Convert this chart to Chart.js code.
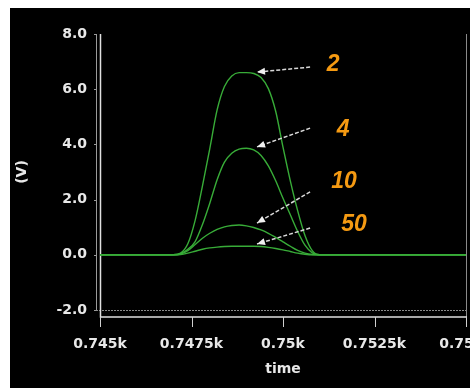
<!DOCTYPE html>
<html>
<head>
<meta charset="utf-8">
<script src="https://cdn.jsdelivr.net/npm/chart.js@4.4.1/dist/chart.umd.min.js"></script>
<style>
  html, body { margin: 0; padding: 0; background: #fff; }
  #wrap { position: absolute; left: 10px; top: 8px; width: 460px; height: 380px; background: #000; }
</style>
</head>
<body>
<div id="wrap"><canvas id="chart" width="460" height="380"></canvas></div>
<script>
// time axis samples (same grid for every curve)
const timeGrid = [745, 747.0, 747.2, 747.4, 747.6, 747.8, 748.0, 748.2, 748.4, 748.6, 748.8,
  749.0, 749.2, 749.4, 749.6, 749.8, 750.0, 750.2, 750.4, 750.6, 750.8, 751.0, 755];

// voltage for each case
const v2  = [0, 0, 0.06, 0.4, 1.25, 2.5, 3.85, 5.25, 6.1, 6.48, 6.6, 6.6, 6.57, 6.42, 6.02, 5.2, 3.9, 2.68, 1.6, 0.7, 0.15, 0, 0];
const v4  = [0, 0, 0.04, 0.2, 0.48, 1.1, 1.87, 2.72, 3.36, 3.68, 3.83, 3.86, 3.8, 3.6, 3.22, 2.68, 2.05, 1.45, 0.85, 0.35, 0.07, 0, 0];
const v10 = [0, 0, 0.03, 0.15, 0.37, 0.6, 0.78, 0.92, 1.01, 1.06, 1.08, 1.05, 0.99, 0.9, 0.78, 0.63, 0.47, 0.31, 0.16, 0.06, 0.01, 0, 0];
const v50 = [0, 0, 0.01, 0.06, 0.13, 0.2, 0.25, 0.28, 0.3, 0.31, 0.31, 0.31, 0.31, 0.3, 0.27, 0.23, 0.18, 0.12, 0.06, 0.02, 0, 0, 0];

// callouts
const noteLabels = ['2', '4', '10', '50'];
const noteTime   = [751.37, 751.64, 751.67, 751.94];
const noteValue  = [6.88, 4.52, 2.64, 1.08];
const tailTime   = [750.74, 750.74, 750.74, 750.74];
const tailValue  = [6.80, 4.59, 2.28, 0.97];
const tipTime    = [749.29, 749.29, 749.29, 749.29];
const tipValue   = [6.62, 3.91, 1.15, 0.39];

const yTicks = [-2, 0, 2, 4, 6, 8];
const xTicks = [745, 747.5, 750, 752.5, 755];

const lineColor = '#38ac38';
const toPoints = (vals) => timeGrid.map((t, i) => ({ x: t, y: vals[i] }));

// axis frame drawn by hand (offset x axis, double y line)
const framePlugin = {
  id: 'frame',
  beforeDatasetsDraw(chart) {
    const { ctx, chartArea: a, scales } = chart;
    const axisY = a.bottom + 7;
    ctx.save();
    ctx.lineWidth = 1;
    // dotted bottom edge
    ctx.strokeStyle = '#8a8a8a';
    ctx.setLineDash([2, 1]);
    ctx.beginPath(); ctx.moveTo(a.left - 4, a.bottom + 0.5); ctx.lineTo(a.right, a.bottom + 0.5); ctx.stroke();
    ctx.setLineDash([]);
    // gray inner y line
    ctx.strokeStyle = '#9a9a9a';
    ctx.beginPath(); ctx.moveTo(a.left - 3.5, a.top); ctx.lineTo(a.left - 3.5, a.bottom); ctx.stroke();
    // y tick marks
    yTicks.forEach(v => {
      const y = Math.round(scales.y.getPixelForValue(v)) + 0.5;
      ctx.beginPath(); ctx.moveTo(a.left - 6, y); ctx.lineTo(a.left - 3.5, y); ctx.stroke();
    });
    // right edge
    ctx.strokeStyle = '#8a8a8a';
    ctx.beginPath(); ctx.moveTo(a.right + 0.5, a.top); ctx.lineTo(a.right + 0.5, axisY); ctx.stroke();
    // white left line and x axis
    ctx.strokeStyle = '#e0e0e0';
    ctx.lineWidth = 1.5;
    ctx.beginPath(); ctx.moveTo(a.left + 0.5, a.top); ctx.lineTo(a.left + 0.5, axisY); ctx.lineTo(a.right + 1, axisY); ctx.stroke();
    ctx.lineWidth = 1;
    ctx.strokeStyle = '#d0d0d0';
    xTicks.forEach(v => {
      const x = Math.round(scales.x.getPixelForValue(v)) + 0.5;
      ctx.beginPath(); ctx.moveTo(x, axisY); ctx.lineTo(x, axisY + 10); ctx.stroke();
    });
    ctx.restore();
  }
};

// dashed arrows and orange case numbers
const notesPlugin = {
  id: 'notes',
  afterDatasetsDraw(chart) {
    const { ctx, scales } = chart;
    const sx = scales.x, sy = scales.y;
    ctx.save();
    noteLabels.forEach((lab, i) => {
      const x0 = sx.getPixelForValue(tailTime[i]), y0 = sy.getPixelForValue(tailValue[i]);
      const x1 = sx.getPixelForValue(tipTime[i]), y1 = sy.getPixelForValue(tipValue[i]);
      ctx.strokeStyle = '#d8d8d8';
      ctx.lineWidth = 1.5;
      ctx.setLineDash([4, 2]);
      ctx.beginPath(); ctx.moveTo(x0, y0); ctx.lineTo(x1, y1); ctx.stroke();
      ctx.setLineDash([]);
      const ang = Math.atan2(y1 - y0, x1 - x0);
      ctx.fillStyle = '#f0f0f0';
      ctx.beginPath();
      ctx.moveTo(x1, y1);
      ctx.lineTo(x1 - 8 * Math.cos(ang) + 3.5 * Math.sin(ang), y1 - 8 * Math.sin(ang) - 3.5 * Math.cos(ang));
      ctx.lineTo(x1 - 8 * Math.cos(ang) - 3.5 * Math.sin(ang), y1 - 8 * Math.sin(ang) + 3.5 * Math.cos(ang));
      ctx.closePath();
      ctx.fill();

      ctx.fillStyle = '#f59a12';
      ctx.font = 'italic bold 23px "Liberation Sans", Arial, sans-serif';
      ctx.textAlign = 'center';
      ctx.textBaseline = 'middle';
      ctx.fillText(lab, sx.getPixelForValue(noteTime[i]), sy.getPixelForValue(noteValue[i]));
    });
    ctx.restore();
  }
};

const tickFont = { family: '"DejaVu Sans", sans-serif', size: 14, weight: 'bold' };

new Chart(document.getElementById('chart'), {
  type: 'line',
  data: {
    datasets: [v2, v4, v10, v50].map((vals, i) => ({
      label: noteLabels[i],
      data: toPoints(vals),
      borderColor: lineColor,
      borderWidth: 1.4,
      pointRadius: 0,
      cubicInterpolationMode: 'monotone',
      fill: false
    }))
  },
  options: {
    responsive: false,
    animation: false,
    layout: { padding: { top: 26, right: 4, left: 0, bottom: 0 } },
    plugins: { legend: { display: false }, tooltip: { enabled: false } },
    scales: {
      x: {
        type: 'linear',
        min: 745,
        max: 755,
        grid: { display: false, drawTicks: false },
        border: { display: false },
        ticks: {
          stepSize: 2.5,
          padding: 26,
          color: '#e8e8e8',
          font: tickFont,
          maxRotation: 0,
          autoSkip: false,
          callback: (v) => parseFloat((v / 1000).toFixed(4)) + 'k'
        },
        title: { display: true, text: 'time', color: '#e8e8e8', font: tickFont, padding: { top: 0, bottom: 10 } },
        afterFit(scale) { scale.height = 78; scale.paddingLeft = 0; scale.paddingRight = 0; }
      },
      y: {
        min: -2,
        max: 8,
        grid: { display: false, drawTicks: false },
        border: { display: false },
        ticks: {
          stepSize: 2,
          padding: 13,
          color: '#e8e8e8',
          font: tickFont,
          callback: (v) => v.toFixed(1)
        },
        title: { display: true, text: '(V)', color: '#e8e8e8', font: tickFont, padding: { top: 4, bottom: 0 } },
        afterFit(scale) { scale.width = 90; scale.paddingTop = 0; scale.paddingBottom = 0; }
      }
    }
  },
  plugins: [framePlugin, notesPlugin]
});
</script>
</body>
</html>
